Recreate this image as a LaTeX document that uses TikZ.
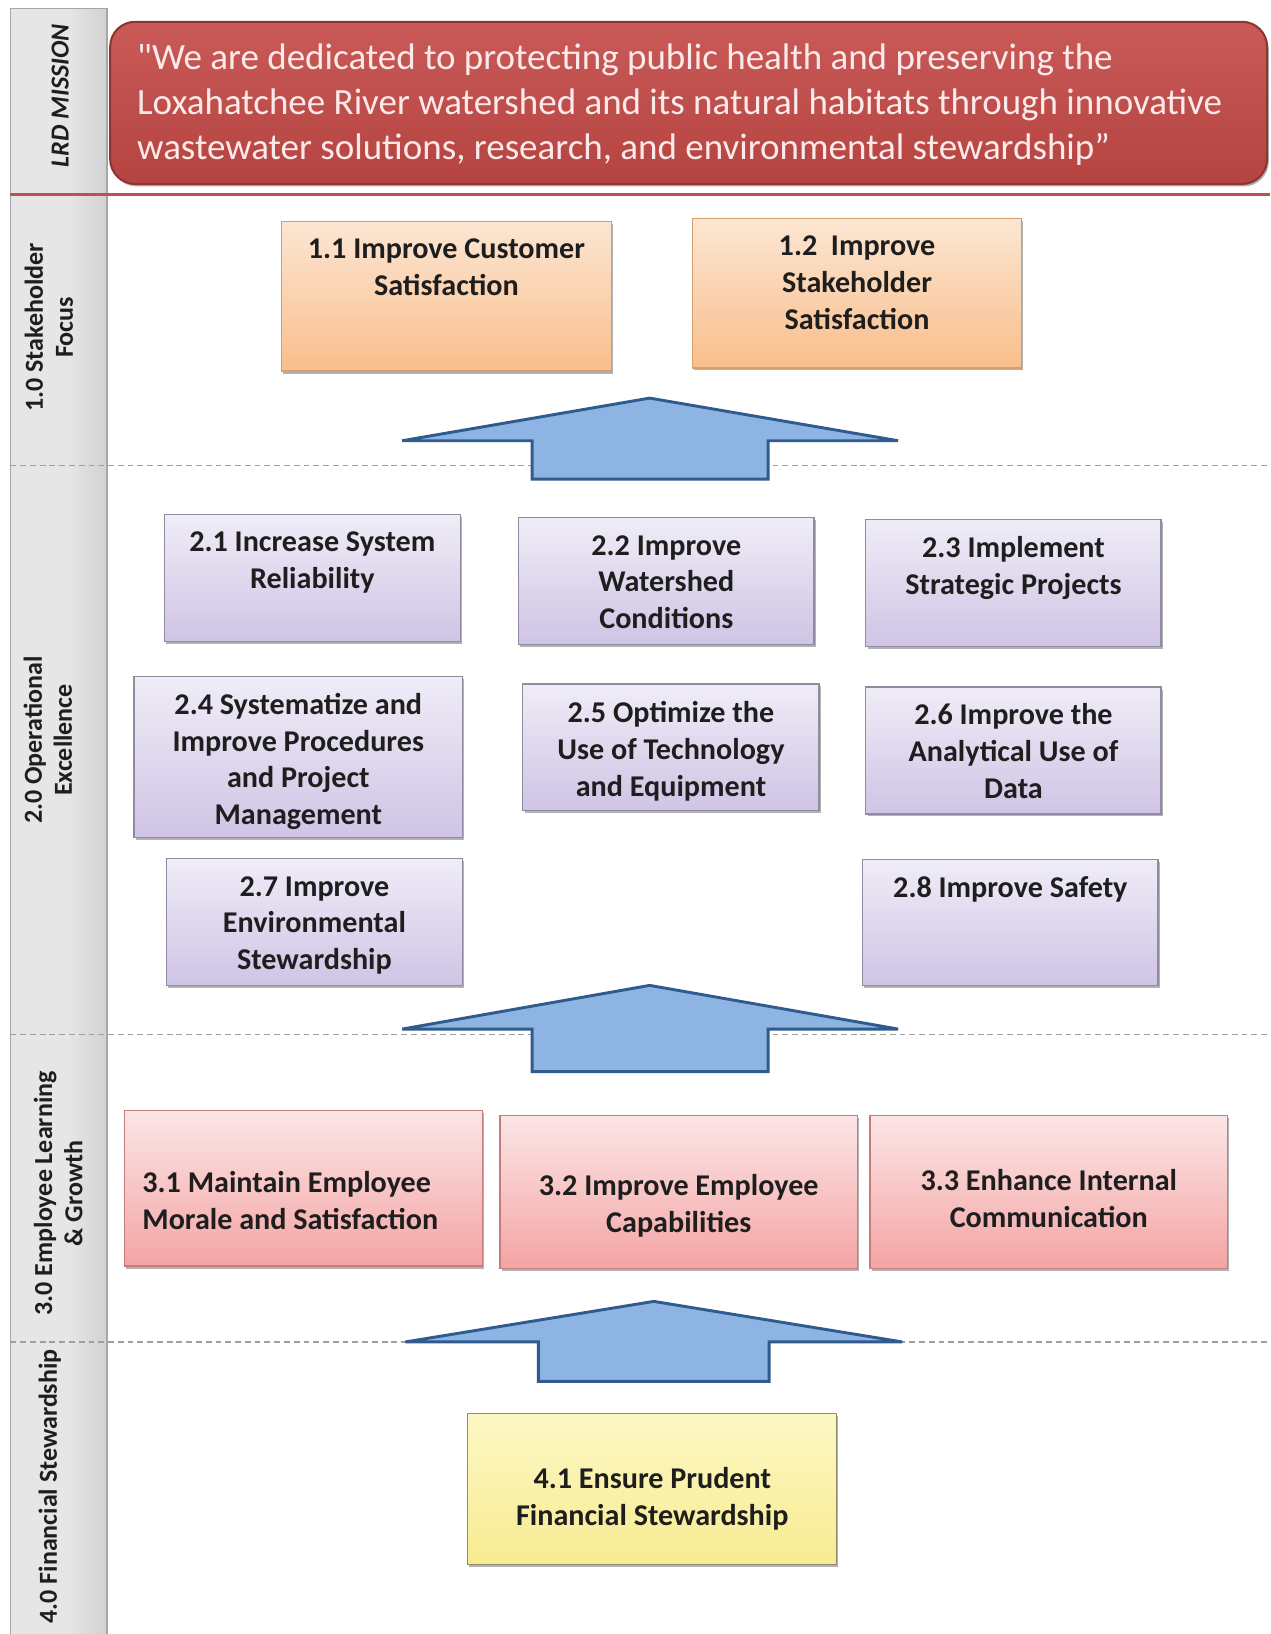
\documentclass[tikz,border=0pt]{standalone}
\usepackage{fontspec}
\setmainfont{Carlito}[Ligatures=TeXOff]
\usetikzlibrary{shadows}
\definecolor{otop}{HTML}{FCE6D2}
\definecolor{obot}{HTML}{F9BE8C}
\definecolor{obord}{HTML}{D2A070}
\definecolor{ptop}{HTML}{F0ECF7}
\definecolor{pbot}{HTML}{CFC4E5}
\definecolor{pbord}{HTML}{8E8C9E}
\definecolor{rtop}{HTML}{FCE6E6}
\definecolor{rbot}{HTML}{F4A4A4}
\definecolor{rbord}{HTML}{C47C7C}
\definecolor{ytop}{HTML}{FCF8C4}
\definecolor{ybot}{HTML}{F8EB92}
\definecolor{ybord}{HTML}{8F8A6A}
\definecolor{mtop}{HTML}{C95A57}
\definecolor{mbot}{HTML}{B54441}
\definecolor{mbord}{HTML}{8E3533}
\definecolor{mtext}{HTML}{FBEAE9}
\definecolor{redline}{HTML}{C0504D}
\definecolor{afill}{HTML}{8DB4E2}
\definecolor{abord}{HTML}{2F5B8F}
\definecolor{sideA}{HTML}{E6E6E6}
\definecolor{sideB}{HTML}{B8B8B8}
\definecolor{txt}{HTML}{1E1E1E}
\pgfdeclarehorizontalshading{sideshade}{100bp}{color(0bp)=(sideA); color(55bp)=(sideA); color(100bp)=(sideB)}
\newlength\uu
\setlength\uu{0.5pt}
\newcommand\gbox[8]{%
  \node[#2, anchor=north west, inner sep=0pt, outer sep=0pt,
        minimum width=#5\uu, minimum height=#6\uu] (#1) at (#3,#4)
  {\parbox[t][#6\uu][t]{#5\uu}{\centering\rule{0pt}{#7\uu}#8}};}
\begin{document}
\begin{tikzpicture}[x=0.5pt,y=-0.5pt,
  shadowed/.style={drop shadow={shadow xshift=0.8pt, shadow yshift=-1.2pt, opacity=0.3, fill=black}},
  boxtext/.style={text=txt, font=\bfseries\fontsize{14.5pt}{17.75pt}\selectfont},
  obox/.style={boxtext, draw=obord, line width=0.6pt, top color=otop, bottom color=obot, shadowed},
  pbox/.style={boxtext, draw=pbord, line width=0.6pt, top color=ptop, bottom color=pbot, shadowed},
  rbox/.style={boxtext, draw=rbord, line width=0.6pt, top color=rtop, bottom color=rbot, shadowed},
  ybox/.style={boxtext, draw=ybord, line width=0.6pt, top color=ytop, bottom color=ybot, shadowed},
  mission/.style={draw=mbord, line width=1pt, top color=mtop, bottom color=mbot, rounded corners=12pt, text=mtext,
     font=\fontsize{17.8pt}{21.5pt}\selectfont, shadowed},
  sidelabel/.style={rotate=90, align=center, text=txt, font=\bfseries\fontsize{12.5pt}{14.5pt}\selectfont},
  sep/.style={draw=gray!75, line width=0.6pt, dash pattern=on 2.8pt off 1.9pt},
  bigarrow/.style={draw=abord, fill=afill, line width=1.4pt, line join=miter}
]
\useasboundingbox (0,0) rectangle (1222,1572);
\fill[white] (0,0) rectangle (1222,1572);
% sidebar
\path[shading=sideshade, draw=gray!70, line width=0.6pt] (10,8) rectangle (103,1590);
% separators
\draw[redline, line width=1.5pt] (10,187) -- (1222,187);
\draw[sep] (10,448) -- (1222,448);
\draw[sep] (10,995) -- (1222,995);
\draw[sep] (10,1291) -- (1222,1291);
% sidebar labels
\node[sidelabel] (lrd) at (58,92) {\itshape LRD MISSION};
\node[sidelabel] (s1) at (47,315) {1.0 Stakeholder\\Focus};
\node[sidelabel] (s2) at (46,712) {2.0 Operational\\Excellence};
\node[sidelabel] (s3) at (56,1148) {3.0 Employee Learning\\\& Growth};
\node[sidelabel] (s4) at (48,1430) {4.0 Financial Stewardship};
% mission
\node[mission, anchor=north west, inner sep=0pt, minimum width=1113\uu, minimum height=156\uu] (mis) at (105,20)
 {\parbox[t][156\uu][t]{1113\uu}{\raggedright\leftskip=26\uu\rule{0pt}{46\uu}"We are dedicated to protecting public health and preserving the\\
 Loxahatchee River watershed and its natural habitats through innovative\\
 wastewater solutions, research, and environmental stewardship”}};
% stakeholder boxes
\gbox{b11}{obox}{271}{213}{317}{144}{36}{1.1 Improve Customer\\Satisfaction}
\gbox{b12}{obox}{666}{210}{317}{144}{36}{1.2\ \ Improve\\Stakeholder\\Satisfaction}
% operational boxes
\gbox{b21}{pbox}{158}{495}{285}{122}{36}{2.1 Increase System\\Reliability}
\gbox{b22}{pbox}{499}{498}{284}{122}{36}{2.2 Improve\\Watershed\\Conditions}
\gbox{b23}{pbox}{833}{500}{284}{122}{36}{2.3 Implement\\Strategic Projects}
\gbox{b24}{pbox}{129}{651}{316}{155}{36}{2.4 Systematize and\\Improve Procedures\\and Project\\Management}
\gbox{b25}{pbox}{503}{658}{285}{122}{37}{2.5 Optimize the\\Use of Technology\\and Equipment}
\gbox{b26}{pbox}{833}{661}{284}{122}{36}{2.6 Improve the\\Analytical Use of\\Data}
\gbox{b27}{pbox}{160}{826}{285}{122}{36}{2.7 Improve\\Environmental\\Stewardship}
\gbox{b28}{pbox}{830}{827}{284}{121}{36}{2.8 Improve Safety}
% employee boxes
\node[rbox, anchor=north west, inner sep=0pt, outer sep=0pt, minimum width=344\uu, minimum height=150\uu] (b31) at (120,1068)
  {\parbox[t][150\uu][t]{344\uu}{\raggedright\leftskip=17\uu\rule{0pt}{79\uu}3.1 Maintain Employee\\Morale and Satisfaction}};
\gbox{b32}{rbox}{481}{1073}{344}{147}{77}{3.2 Improve Employee\\Capabilities}
\gbox{b33}{rbox}{837}{1073}{344}{147}{72}{3.3 Enhance Internal\\Communication}
% financial box
\gbox{b41}{ybox}{450}{1360}{355}{145}{72}{4.1 Ensure Prudent\\Financial Stewardship}
% arrows
\draw[bigarrow] (625,383) -- (864,424) -- (739,424) -- (739,461) -- (512,461) -- (512,424) -- (387,424) -- cycle;
\draw[bigarrow] (625,948) -- (864,990) -- (739,990) -- (739,1031) -- (512,1031) -- (512,990) -- (387,990) -- cycle;
\draw[bigarrow] (629,1252) -- (868,1291) -- (740,1291) -- (740,1329) -- (518,1329) -- (518,1291) -- (390,1291) -- cycle;
\end{tikzpicture}
\end{document}
